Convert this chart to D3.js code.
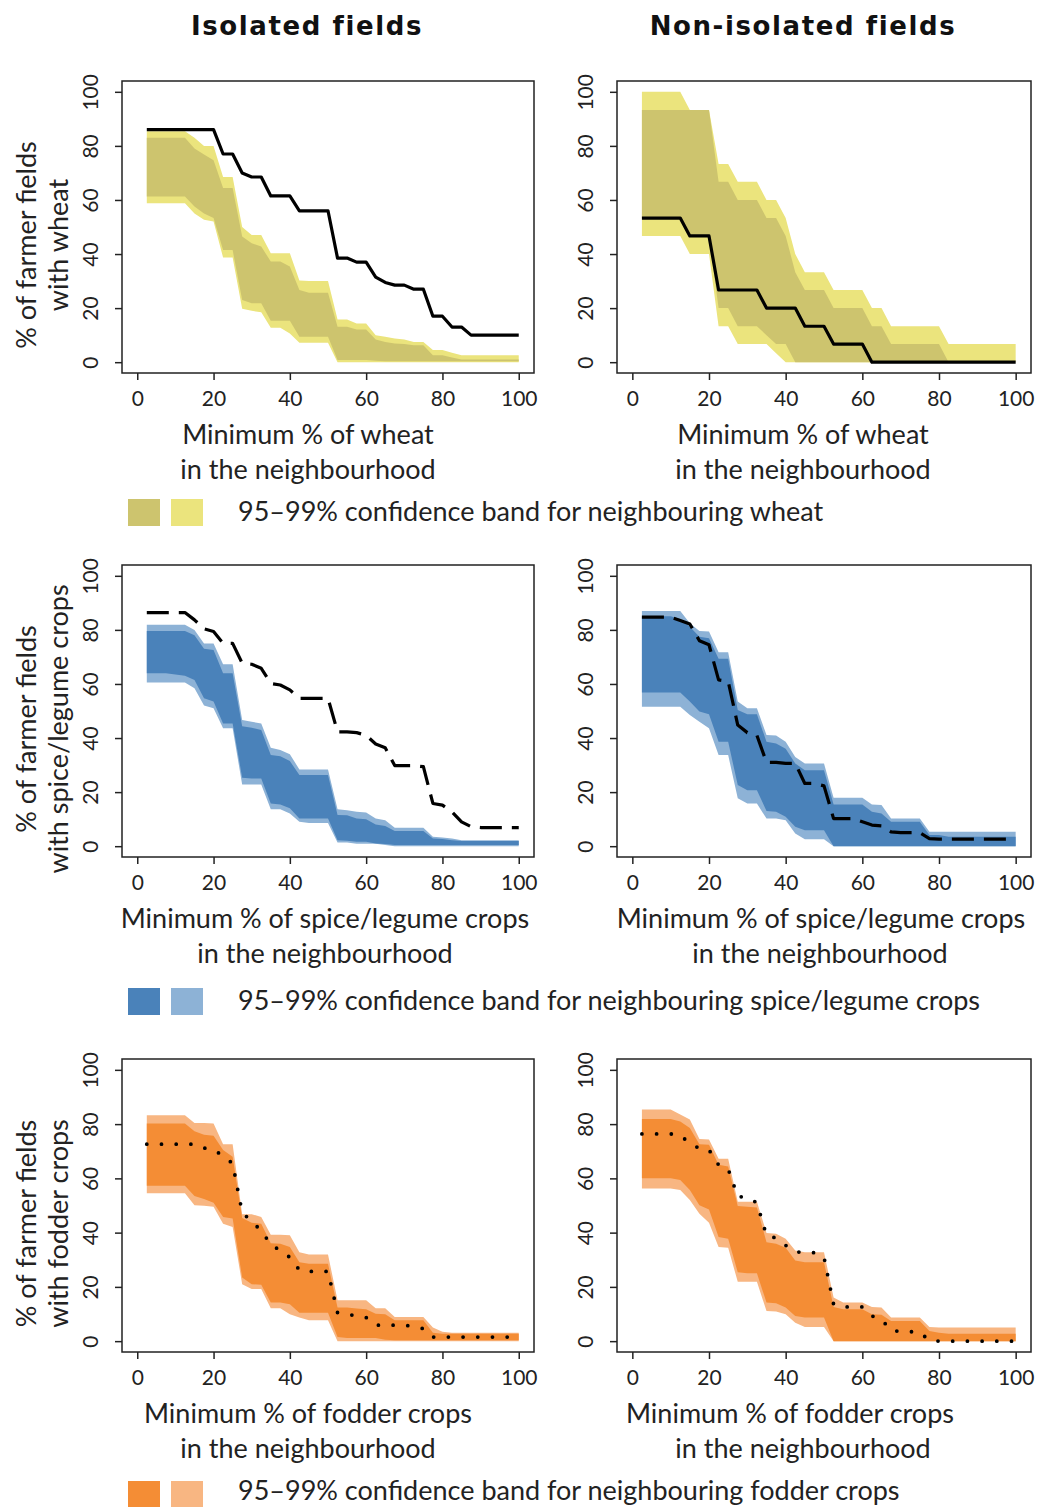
<!DOCTYPE html>
<html><head><meta charset="utf-8">
<script src="https://cdn.jsdelivr.net/npm/d3@7/dist/d3.min.js"></script>
<style>body{margin:0;background:#fff}svg{display:block}</style>
</head><body>
<svg id="chart" width="1037" height="1507"></svg>
<script>
// ---------- DATA ----------
const xValues = [2.5,5,7.5,10,12.5,15,17.5,20,22.5,25,27.5,30,32.5,35,37.5,40,42.5,45,47.5,50,
                 52.5,55,57.5,60,62.5,65,67.5,70,72.5,75,77.5,80,82.5,85,87.5,90,92.5,95,97.5,100];
const xTicks = [0,20,40,60,80,100];
const yTicks = [0,20,40,60,80,100];
const columnTitles = ["Isolated fields","Non-isolated fields"];

// Wheat, isolated
const wheatIsoObs = [86,86,86,86,86,86,86,86,77,77,70,68.5,68.5,61.5,61.5,61.5,56,56,56,56,
                     38.5,38.5,37,37,31.5,29.5,28.5,28.5,27,27,17,17,13,13,10,10,10,10,10,10];
const wheatIsoU99 = [85.4,85.4,85.4,85.4,85.4,83,80,80,68.5,68.5,50,47,47,40.3,40.3,40.3,30.2,30,30,30,
                     15.8,15.8,14.3,14.3,10,9.4,8.8,8.4,7.5,7.5,4.5,4.5,3.5,2.6,2.6,2.6,2.6,2.6,2.6,2.6];
const wheatIsoU95 = [83,83,83,83,83,79,76.8,74.7,64.4,64.4,46.5,44,42.8,37.2,37.2,35.4,26.7,25.7,25.7,25.7,
                     13.1,13.1,12.1,12.1,8.4,7.5,6.9,6.7,6.3,6.3,2.6,2.6,1.7,1,1,1,1,1,1,1];
const wheatIsoL95 = [61.3,61.3,61.3,61.3,61.3,57.6,55,53.3,41.5,41.5,23,21.8,21.8,15.3,15.3,15.3,9.4,9.4,9.4,9.4,
                     0.8,0.8,0.8,0.8,0.5,0.3,0.3,0.3,0.3,0.3,0.3,0.3,0.3,0.3,0.3,0.3,0.3,0.3,0.3,0.3];
const wheatIsoL99 = [58.8,58.8,58.8,58.8,58.8,55,52.7,52,38.7,38.7,19.8,19,18.5,12.7,12.7,10.6,7.2,7.2,7.2,7.2,
                     0,0,0,0,0,0,0,0,0,0,0,0,0,0,0,0,0,0,0,0];

// Wheat, non-isolated
const wheatNonObs = [53.3,53.3,53.3,53.3,53.3,46.7,46.7,46.7,26.7,26.7,26.7,26.7,26.7,20,20,20,20,13.3,13.3,13.3,
                     6.7,6.7,6.7,6.7,0,0,0,0,0,0,0,0,0,0,0,0,0,0,0,0];
const wheatNonU99 = [100,100,100,100,100,93.3,93.3,93.3,73.3,73.3,66.7,66.7,66.7,60,60,53.3,40,33.3,33.3,33.3,
                     26.7,26.7,26.7,26.7,20,20,13.3,13.3,13.3,13.3,13.3,13.3,6.7,6.7,6.7,6.7,6.7,6.7,6.7,6.7];
const wheatNonU95 = [93.3,93.3,93.3,93.3,93.3,93.3,93.3,93.3,66.7,66.7,60,60,60,53.3,53.3,46.7,33.3,26.7,26.7,26.7,
                     20,20,20,20,13.3,13.3,6.7,6.7,6.7,6.7,6.7,6.7,0,0,0,0,0,0,0,0];
const wheatNonL95 = [53.3,53.3,53.3,53.3,53.3,46.7,46.7,46.7,20,20,13.3,13.3,13.3,10,6.7,6.7,0,0,0,0,
                     0,0,0,0,0,0,0,0,0,0,0,0,0,0,0,0,0,0,0,0];
const wheatNonL99 = [46.7,46.7,46.7,46.7,46.7,40,40,40,13.3,13.3,6.7,6.7,6.7,6.7,3.3,0,0,0,0,0,
                     0,0,0,0,0,0,0,0,0,0,0,0,0,0,0,0,0,0,0,0];

// Spice/legume crops, isolated
const spiceIsoObs = [86.4,86.4,86.4,86.4,86.4,83.7,80.4,79.4,75,75,67.7,67.3,65.8,60.2,59.6,57.8,54.7,54.7,54.7,54.7,
                     42.3,42.3,42,41,37.8,36.4,29.8,29.8,29.8,29.4,15.8,15.2,12.7,9,7.2,6.9,6.9,6.9,6.9,6.9];
const spiceIsoU99 = [81.9,81.9,81.9,81.9,81.9,80,75,75,67.3,67.3,46.7,46,45.4,36.4,35.6,34,28.4,28.4,28.4,28.4,
                     13.7,13.3,12.7,12.5,10.2,9.6,6.8,6.8,6.8,6.8,3.5,3.2,2.8,2.2,2.2,2.2,2.2,2.2,2.2,2.2];
const spiceIsoU95 = [79.6,79.6,79.6,79.6,79.6,78,73,72.6,64,64,44.4,43.8,43,33.7,33.3,31.5,26.3,26.3,26.3,26.3,
                     11.5,11.4,10.2,10,8,7.5,5.6,5.6,5.6,5.6,2.8,2.7,2.2,1.9,1.9,1.9,1.9,1.9,1.9,1.9];
const spiceIsoL95 = [64,64,64,63.5,63,61.5,54.7,53.5,45.4,45.4,25.3,25,25,15.8,15.4,14,10.2,10.2,10.2,10.2,
                     2.2,2,1.6,1.6,1,0.8,0.4,0.4,0.4,0.4,0.4,0.4,0.4,0.4,0.4,0.4,0.4,0.4,0.4,0.4];
const spiceIsoL99 = [60.5,60.5,60.5,60.5,60.5,58.4,52,51,43.6,43.6,22.8,22.8,22.8,13.7,13.7,12.1,9,8.6,8.6,8.6,
                     1.4,1.4,0.9,0.9,0.9,0.4,0,0,0,0,0,0,0,0,0,0,0,0,0,0];

// Spice/legume crops, non-isolated
const spiceNonObs = [84.7,84.7,84.7,84.7,83.5,82.2,76,74.5,61.5,61,44.8,42,41,31,31,30.6,30.6,23.2,23.2,22.3,
                     10.2,10.2,10.2,9,7.8,7.5,5.3,5,5,5,2.8,2.6,2.6,2.6,2.6,2.6,2.6,2.6,2.6,2.6];
const spiceNonU99 = [87,87,87,87,87,82.5,79.6,79.4,71.7,71.7,53.5,51,51,41.1,40.9,38.6,33,30.6,30.6,30.6,
                     17.9,17.9,17.9,17.9,15.4,15.2,10.2,10.2,10.2,10.2,5.3,5.3,5.3,5.3,5.3,5.3,5.3,5.3,5.3,5.3];
const spiceNonU95 = [85,85,85,85,84,81.2,77.5,76.9,69.3,69.3,50.4,48.8,48.8,38.6,38,36,30.6,28.1,28.1,28.1,
                     15.4,15.4,15.4,15.4,12.7,12.1,9,9,9,9,4.1,4.1,3.5,3.5,3.5,3.5,3.5,3.5,3.5,3.5];
const spiceNonL95 = [56.8,56.8,56.8,56.8,56.8,53.5,49.8,48.8,38.6,38.6,22.6,20.7,20.7,13,12.7,10.9,7.2,5.9,5.9,5.9,
                     0,0,0,0,0,0,0,0,0,0,0,0,0,0,0,0,0,0,0,0];
const spiceNonL99 = [51.6,51.6,51.6,51.6,51.6,48.5,46,43.6,33.7,33.7,17.7,15.8,15.8,10.2,10.2,9.6,4.7,2.6,2.6,2.6,
                     0,0,0,0,0,0,0,0,0,0,0,0,0,0,0,0,0,0,0,0];

// Fodder crops, isolated
const fodderIsoObs = [72.6,72.6,72.6,72.6,72.6,72.6,71.2,70.5,68.3,65.5,47.5,44,40.8,35.6,33.4,30.9,26.2,25.7,25.7,25.7,
                      10.5,9.9,9.3,8.7,5.9,5.9,5.9,5.9,5.4,4.6,1.5,1.5,1.5,1.5,1.5,1.5,1.5,1.5,1.5,1.5];
const fodderIsoU99 = [83.3,83.3,83.3,83.3,83.3,80.4,80.4,80.2,72.6,72.6,46.8,46.8,45.8,39.2,39.2,39,32.8,31.9,31.9,31.9,
                      15.1,15.1,15.1,15.1,12.1,12.1,8.9,8.9,8.9,8.9,5,3.5,3.1,3.1,3.1,3.1,3.1,3.1,3.1,3.1];
const fodderIsoU95 = [80.2,80.2,80.2,80.2,80.2,77.4,76.1,75.7,70.5,68,45.4,43.6,43.3,36.1,35.9,34.7,29.1,28.5,28.5,28.5,
                      12.4,12.4,12,11.8,10.1,9.9,7.7,7.7,7.7,7.7,3.1,2.7,2.7,2.7,2.7,2.7,2.7,2.7,2.7,2.7];
const fodderIsoL95 = [57.3,57.3,57.3,57.3,57.3,53.5,52.4,51,45.8,45.2,23.5,21,20.8,14.2,14.2,13.6,10.5,10.5,10.5,10.5,
                      1.5,1.2,1.2,1.2,1.2,0.5,0.3,0.3,0.3,0.3,0.3,0.3,0.3,0.3,0.3,0.3,0.3,0.3,0.3,0.3];
const fodderIsoL99 = [54.5,54.5,54.5,54.5,54.5,50.1,49.9,49.5,43.3,42.1,21,19.2,19.2,12.1,12.1,9.9,8.7,7.7,7.7,7.7,
                      0,0,0,0,0,0,0,0,0,0,0,0,0,0,0,0,0,0,0,0];

// Fodder crops, non-isolated
const fodderNonObs = [76.4,76.4,76.4,76.4,75.8,73,71,70.5,65,63.5,53.3,53,51,39,38,35.3,33,32.6,32.6,31,
                      13.6,12.6,12.6,12.6,9.3,8,4,3.5,3.5,3.2,0.3,0,0,0,0,0,0,0,0,0];
const fodderNonU99 = [85.4,85.4,85.4,85.4,83.5,81.7,74.5,74.3,67.2,67.2,51.4,51.4,51.4,39.9,39.6,37.7,33.4,32.8,32.8,32.8,
                      16.1,14.2,14.2,14.2,12.6,12.4,8.7,8.7,8.7,8.7,5.2,5,5,5,5,5,5,5,5,5];
const fodderNonU95 = [81.9,81.9,81.9,81.9,81,78.6,72.6,72.4,65,64.4,49.8,49.5,49.3,36.5,35.9,34.4,29.7,29.1,29.1,29.1,
                      12.6,11.8,11.8,11.8,9.9,9.7,7.4,7.4,7.4,7.4,3.7,3.1,2.7,2.7,2.7,2.7,2.7,2.7,2.7,2.7];
const fodderNonL95 = [60,60,60,60,59.4,55.7,50.1,48.5,38.4,37.7,25.4,25,25,14.2,14,12.4,9.3,8.7,8.7,8.7,
                      0,0,0,0,0,0,0,0,0,0,0,0,0,0,0,0,0,0,0,0];
const fodderNonL99 = [56.3,56.3,56.3,56.3,55.7,52,47,43.6,34.7,34.4,21.9,21.9,21.9,11.1,10.9,9.9,6.8,5.2,5.2,5.2,
                      0,0,0,0,0,0,0,0,0,0,0,0,0,0,0,0,0,0,0,0];

// ---------- LAYOUT ----------
const svg = d3.select("#chart");
const labelFont = "Lato, 'Open Sans', sans-serif";
const colL = [122, 534], colR = [617, 1031];
const rows = [
  {top:81, bottom:373, ylab2:"with wheat", xlab1:"Minimum % of wheat",
   dark:"#CDC46E", light:"#EBE47D", dash:null, width:3.2,
   legendY:499, legendBase:22, legendText:"95\u201399% confidence band for neighbouring wheat",
   xlabCenters:[[308,308],[803,803]],
   panels:[[wheatIsoObs,wheatIsoU99,wheatIsoL99,wheatIsoU95,wheatIsoL95],
           [wheatNonObs,wheatNonU99,wheatNonL99,wheatNonU95,wheatNonL95]]},
  {top:565, bottom:857, ylab2:"with spice/legume crops", xlab1:"Minimum % of spice/legume crops",
   dark:"#4A82BA", light:"#8DB2D6", dash:"22 10", width:3.2,
   legendY:988, legendBase:22, legendText:"95\u201399% confidence band for neighbouring spice/legume crops",
   xlabCenters:[[325,325],[821,820]],
   panels:[[spiceIsoObs,spiceIsoU99,spiceIsoL99,spiceIsoU95,spiceIsoL95],
           [spiceNonObs,spiceNonU99,spiceNonL99,spiceNonU95,spiceNonL95]]},
  {top:1059, bottom:1352, ylab2:"with fodder crops", xlab1:"Minimum % of fodder crops",
   dark:"#F48D35", light:"#F8B682", dash:"0 14.7", width:3.8, round:true,
   legendY:1481, legendBase:19, legendText:"95\u201399% confidence band for neighbouring fodder crops",
   xlabCenters:[[308,308],[790,803]],
   panels:[[fodderIsoObs,fodderIsoU99,fodderIsoL99,fodderIsoU95,fodderIsoL95],
           [fodderNonObs,fodderNonU99,fodderNonL99,fodderNonU95,fodderNonL95]]}
];

// column titles
[[307, columnTitles[0]],[803, columnTitles[1]]].forEach(([cx,t])=>{
  svg.append("text").attr("x",cx).attr("y",35).attr("text-anchor","middle")
    .attr("font-family","'DejaVu Sans', sans-serif").attr("font-weight","bold")
    .attr("font-size",26).attr("letter-spacing",1.6).attr("fill","#111").text(t);
});

rows.forEach(row=>{
  [colL,colR].forEach((col,ci)=>{
    const [L,R] = col, T=row.top, B=row.bottom;
    const x = d3.scaleLinear().domain([-4,104]).range([L,R]);
    const y = d3.scaleLinear().domain([-4,104]).range([B,T]);
    const [obs,u99,l99,u95,l95] = row.panels[ci];
    const idx = d3.range(xValues.length);
    const g = svg.append("g");
    const area = (lo,hi)=>d3.area().x(i=>x(xValues[i])).y0(i=>y(lo[i])).y1(i=>y(hi[i]));
    g.append("path").datum(idx).attr("d",area(l99,u99)).attr("fill",row.light);
    g.append("path").datum(idx).attr("d",area(l95,u95)).attr("fill",row.dark);
    const line = d3.line().x(i=>x(xValues[i])).y(i=>y(obs[i]));
    const lp = g.append("path").datum(idx).attr("d",line).attr("fill","none")
      .attr("stroke","#000").attr("stroke-width",row.width)
      .attr("stroke-linejoin","round");
    if(row.dash) lp.attr("stroke-dasharray",row.dash);
    if(row.round) lp.attr("stroke-linecap","round");
    // frame
    g.append("rect").attr("x",L).attr("y",T).attr("width",R-L).attr("height",B-T)
      .attr("fill","none").attr("stroke","#222").attr("stroke-width",1.5);
    // axes
    const ax = g.append("g").attr("transform",`translate(0,${B})`)
      .call(d3.axisBottom(x).tickValues(xTicks).tickSize(7).tickSizeOuter(0));
    const ay = g.append("g").attr("transform",`translate(${L},0)`)
      .call(d3.axisLeft(y).tickValues(yTicks).tickSize(7).tickSizeOuter(0));
    [ax,ay].forEach(a=>{
      a.select(".domain").remove();
      a.selectAll(".tick line").attr("stroke","#222").attr("stroke-width",1.5);
      a.selectAll("text").attr("font-family",labelFont).attr("font-size",21).attr("fill","#222");
    });
    ax.selectAll("text").attr("y",33).attr("dy",null);
    ay.selectAll("text").attr("x",0).attr("y",-24).attr("dy",null)
      .attr("text-anchor","middle").attr("transform","rotate(-90)");
    // x axis label
    const xl = [row.xlab1,"in the neighbourhood"];
    xl.forEach((t,k)=>{
      svg.append("text").attr("x",row.xlabCenters[ci][k]).attr("y",B+71+k*35)
        .attr("text-anchor","middle").attr("font-family",labelFont).attr("font-size",27)
        .attr("fill","#222").text(t);
    });
    // y axis label (left column only)
    if(ci===0){
      const cy = (T+B)/2+18;
      ["% of farmer fields", row.ylab2].forEach((t,k)=>{
        svg.append("text").attr("transform",`translate(${36+k*32},${cy}) rotate(-90)`)
          .attr("text-anchor","middle").attr("font-family",labelFont).attr("font-size",27)
          .attr("fill","#222").text(t);
      });
    }
  });
  // legend
  const ly = row.legendY;
  svg.append("rect").attr("x",128).attr("y",ly).attr("width",32).attr("height",27).attr("fill",row.dark);
  svg.append("rect").attr("x",171).attr("y",ly).attr("width",32).attr("height",27).attr("fill",row.light);
  svg.append("text").attr("x",238).attr("y",ly+row.legendBase).attr("font-family",labelFont).attr("font-size",27)
    .attr("fill","#222").text(row.legendText);
});
</script>
</body></html>
